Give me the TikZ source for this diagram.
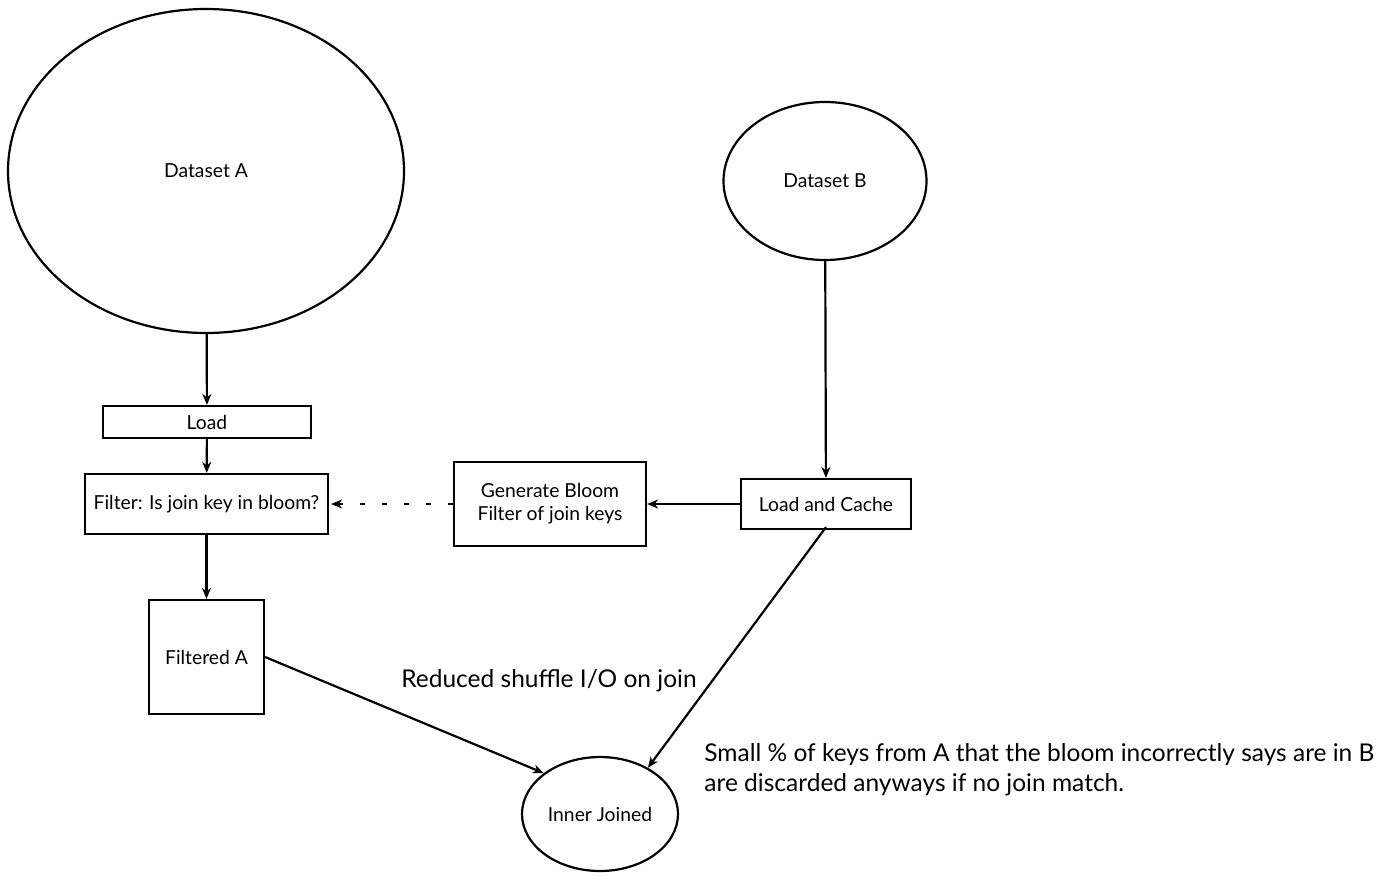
\documentclass[tikz,border=0pt]{standalone}
\usepackage{fontspec}
\setmainfont{Lato}
\usetikzlibrary{shapes.geometric,arrows.meta}

\begin{document}
\begin{tikzpicture}[x=1pt,y=-1pt,line width=2.2pt,
  >={Stealth[length=11pt,width=9pt]},
  box/.style={draw,rectangle,inner sep=0pt,font=\fontsize{19.3}{23}\selectfont},
  blob/.style={draw,ellipse,inner sep=0pt,font=\fontsize{19.3}{23}\selectfont},
  note/.style={font=\fontsize{24.5}{30}\selectfont}]

  \useasboundingbox[fill=white] (0,0) rectangle (1400,881);

  % sources
  \node[blob,minimum width=396pt,minimum height=324pt] (dsA) at (206,171) {Dataset A};
  \node[blob,minimum width=203pt,minimum height=158pt] (dsB) at (825,181) {Dataset B};

  % path of A
  \node[box,minimum width=208pt,minimum height=32pt] (load) at (207,422) {Load};
  \node[box,minimum width=243pt,minimum height=60pt] (filter) at (206.5,504) {Filter: Is join key in bloom?};
  \node[box,minimum width=115pt,minimum height=114pt] (filtA) at (206.5,657) {Filtered A};

  % path of B
  \node[box,minimum width=170pt,minimum height=50pt] (cache) at (826,504) {Load and Cache};
  \node[box,minimum width=192pt,minimum height=84pt,align=center] (bloom) at (550,504)
    {Generate Bloom\\Filter of join keys};

  % result
  \node[blob,minimum width=156pt,minimum height=114pt] (joined) at (600,814) {Inner Joined};

  \node[note] (shuffle) at (549,681) {Reduced shuffle I/O on join};
  \node[note,anchor=west,align=left] (falsepos) at (700,770)
    {Small \% of keys from A that the bloom incorrectly says are in B\\
     are discarded anyways if no join match.};

  \path[->]
    (dsA) edge (load)
    (load) edge (filter)
    (filter) edge (filtA)
    (dsB) edge (cache)
    (cache) edge (bloom)
    (filtA.east) edge (joined.144)
    ([yshift=3pt]cache.south) edge (joined.44);

  \draw[->,dash pattern=on 5pt off 17pt] (bloom.west) -- ([xshift=2pt]filter.east);

\end{tikzpicture}
\end{document}
